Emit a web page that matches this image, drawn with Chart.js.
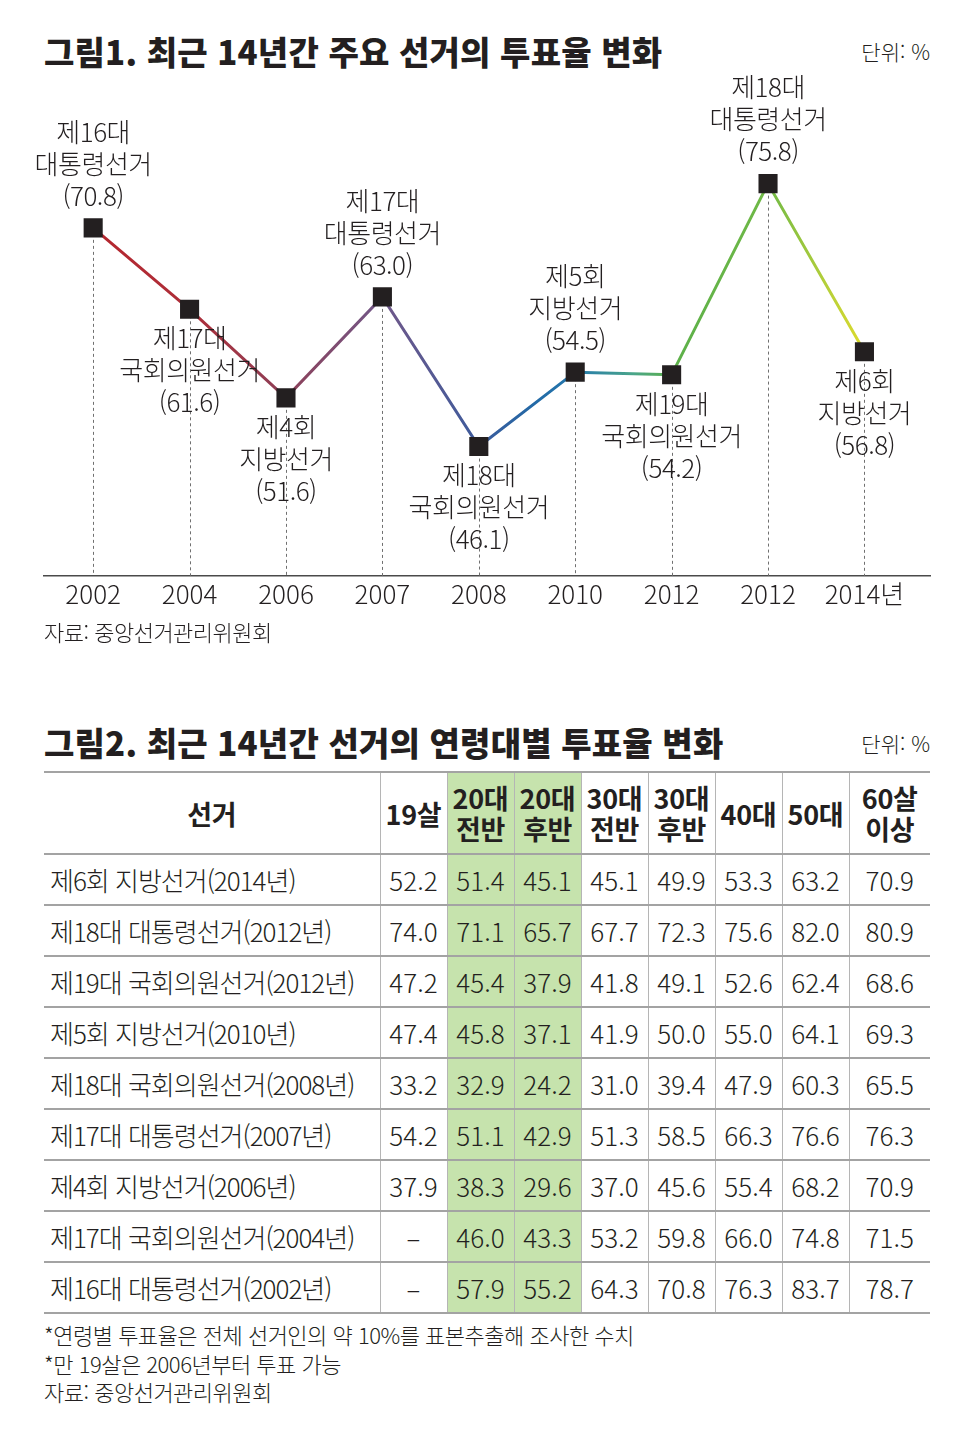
<!DOCTYPE html>
<html lang="ko">
<head>
<meta charset="utf-8">
<title>최근 14년간 선거의 투표율 변화</title>
<script src="https://cdn.jsdelivr.net/npm/chart.js@4.4.1/dist/chart.umd.min.js"></script>
<style>
  body { margin: 0; background: #fff; font-family: "Noto Sans CJK KR", "Noto Sans", sans-serif; color: #231f20; }
  #page { position: relative; width: 970px; height: 1442px; overflow: hidden; }
  .title { position: absolute; left: 44px; font-size: 33px; font-weight: 900; letter-spacing: 0.2px; line-height: 1; white-space: nowrap; }
  .unit { position: absolute; right: 40px; font-size: 21px; font-weight: 300; letter-spacing: 0; line-height: 1; }
  .note { position: absolute; left: 44px; font-size: 22px; font-weight: 300; letter-spacing: -0.5px; line-height: 28.5px; white-space: nowrap; }
  #chart-wrap { position: absolute; left: 0; top: 0; width: 970px; height: 640px; }
  table { position: absolute; left: 44px; top: 771px; width: 886px; border-collapse: collapse; table-layout: fixed; }
  th, td { border-top: 2px solid #a3a3a3; border-bottom: 2px solid #a3a3a3; border-left: 1px solid #b5b5b5; padding: 0; text-align: center; vertical-align: middle; }
  th:first-child, td:first-child { border-left: none; }
  th { height: 80px; font-size: 27px; font-weight: 700; line-height: 31px; letter-spacing: -0.3px; }
  td { height: 49px; font-size: 26px; font-weight: 300; line-height: 1; letter-spacing: 0; }
  td:first-child { text-align: left; padding-left: 6px; letter-spacing: -1px; }
  .hl { background: #c6e3ad; }
</style>
</head>
<body>
<div id="page">
  <div class="title" style="top:35px">그림1. 최근 14년간 주요 선거의 투표율 변화</div>
  <div class="unit" style="top:41px">단위: %</div>
  <div id="chart-wrap"><canvas id="chart-turnout"></canvas></div>
  <div class="note" style="top:617px">자료: 중앙선거관리위원회</div>

  <div class="title" style="top:726px">그림2. 최근 14년간 선거의 연령대별 투표율 변화</div>
  <div class="unit" style="top:733px">단위: %</div>
  <table id="table-age">
    <colgroup>
      <col style="width:336px"><col style="width:67px"><col style="width:67px"><col style="width:67px">
      <col style="width:67px"><col style="width:67px"><col style="width:67px"><col style="width:67px"><col style="width:81px">
    </colgroup>
    <thead></thead>
    <tbody></tbody>
  </table>
  <div class="note" style="top:1320px">*연령별 투표율은 전체 선거인의 약 10%를 표본추출해 조사한 수치<br>*만 19살은 2006년부터 투표 가능<br>자료: 중앙선거관리위원회</div>
</div>

<script>
// 그림1 데이터
const yearLabels = ['2002', '2004', '2006', '2007', '2008', '2010', '2012', '2012', '2014년'];
const electionOrdinals = ['제16대', '제17대', '제4회', '제17대', '제18대', '제5회', '제19대', '제18대', '제6회'];
const electionTypes = ['대통령선거', '국회의원선거', '지방선거', '대통령선거', '국회의원선거', '지방선거', '국회의원선거', '대통령선거', '지방선거'];
const turnout = [70.8, 61.6, 51.6, 63.0, 46.1, 54.5, 54.2, 75.8, 56.8];

// 그림2 데이터
const electionRows = ['제6회 지방선거(2014년)', '제18대 대통령선거(2012년)', '제19대 국회의원선거(2012년)', '제5회 지방선거(2010년)',
  '제18대 국회의원선거(2008년)', '제17대 대통령선거(2007년)', '제4회 지방선거(2006년)', '제17대 국회의원선거(2004년)', '제16대 대통령선거(2002년)'];
const ageGroups = [['19살'], ['20대', '전반'], ['20대', '후반'], ['30대', '전반'], ['30대', '후반'], ['40대'], ['50대'], ['60살', '이상']];
const age19 = [52.2, 74.0, 47.2, 47.4, 33.2, 54.2, 37.9, null, null];
const age20Early = [51.4, 71.1, 45.4, 45.8, 32.9, 51.1, 38.3, 46.0, 57.9];
const age20Late = [45.1, 65.7, 37.9, 37.1, 24.2, 42.9, 29.6, 43.3, 55.2];
const age30Early = [45.1, 67.7, 41.8, 41.9, 31.0, 51.3, 37.0, 53.2, 64.3];
const age30Late = [49.9, 72.3, 49.1, 50.0, 39.4, 58.5, 45.6, 59.8, 70.8];
const age40 = [53.3, 75.6, 52.6, 55.0, 47.9, 66.3, 55.4, 66.0, 76.3];
const age50 = [63.2, 82.0, 62.4, 64.1, 60.3, 76.6, 68.2, 74.8, 83.7];
const age60Plus = [70.9, 80.9, 68.6, 69.3, 65.5, 76.3, 70.9, 71.5, 78.7];
const ageColumns = [age19, age20Early, age20Late, age30Early, age30Late, age40, age50, age60Plus];

// 선 색: 빨강 -> 보라 -> 파랑 -> 초록 -> 노랑
function lineGradient(chart) {
  const {ctx, chartArea, scales} = chart;
  if (!chartArea) return '#b5262e';
  const x0 = scales.x.getPixelForValue(0);
  const x1 = scales.x.getPixelForValue(turnout.length - 1);
  const g = ctx.createLinearGradient(x0, 0, x1, 0);
  g.addColorStop(0, '#b5262e');
  g.addColorStop(0.13, '#ad2f3a');
  g.addColorStop(0.25, '#8d4058');
  g.addColorStop(0.375, '#715889');
  g.addColorStop(0.5, '#3d5b9c');
  g.addColorStop(0.57, '#2369a6');
  g.addColorStop(0.625, '#2479ad');
  g.addColorStop(0.7, '#4aa58a');
  g.addColorStop(0.75, '#5cb04a');
  g.addColorStop(0.875, '#70b946');
  g.addColorStop(0.95, '#b4cf3a');
  g.addColorStop(1, '#dedb2c');
  return g;
}

const dropLines = {
  id: 'dropLines',
  beforeDatasetsDraw(chart) {
    const {ctx, chartArea} = chart;
    ctx.save();
    ctx.strokeStyle = '#707070';
    ctx.lineWidth = 1;
    ctx.setLineDash([3, 3]);
    chart.getDatasetMeta(0).data.forEach(p => {
      const x = Math.round(p.x) + 0.5;
      ctx.beginPath();
      ctx.moveTo(x, p.y);
      ctx.lineTo(x, chartArea.bottom);
      ctx.stroke();
    });
    ctx.restore();
  }
};

const pointLabels = {
  id: 'pointLabels',
  afterDatasetsDraw(chart) {
    const {ctx} = chart;
    ctx.save();
    ctx.font = '300 26px "Noto Sans CJK KR"';
    ctx.letterSpacing = '-0.5px';
    ctx.fillStyle = '#231f20';
    ctx.textAlign = 'center';
    ctx.textBaseline = 'middle';
    chart.getDatasetMeta(0).data.forEach((p, i) => {
      const v = turnout[i];
      const prev = i > 0 ? turnout[i - 1] : -Infinity;
      const next = i < turnout.length - 1 ? turnout[i + 1] : -Infinity;
      const above = v > prev && v > next;
      const lines = [electionOrdinals[i], electionTypes[i], '(' + v.toFixed(1) + ')'];
      lines.forEach((t, k) => {
        const y = above ? p.y - 32 - (2 - k) * 32 : p.y + 29 + k * 32;
        ctx.fillText(t, p.x, y);
      });
    });
    ctx.restore();
  }
};

new Chart(document.getElementById('chart-turnout'), {
  type: 'line',
  data: {
    datasets: [{
      data: turnout.map((v, i) => ({x: i, y: v})),
      borderColor: ctx => lineGradient(ctx.chart),
      borderWidth: 3,
      tension: 0,
      pointStyle: 'rect',
      pointRadius: 13.5,
      pointHoverRadius: 13.5,
      pointBackgroundColor: '#231f20',
      pointBorderColor: '#231f20',
      pointBorderWidth: 0
    }]
  },
  options: {
    responsive: true,
    maintainAspectRatio: false,
    animation: false,
    events: [],
    layout: { padding: { left: 44, right: 40, top: 80, bottom: 27 } },
    plugins: { legend: { display: false }, tooltip: { enabled: false } },
    scales: {
      x: {
        type: 'linear',
        min: -0.51,
        max: 8.68,
        afterBuildTicks: scale => { scale.ticks = yearLabels.map((_, i) => ({value: i})); },
        grid: { display: false, drawTicks: false },
        border: { display: true, color: '#4a4a4a', width: 1.5 },
        ticks: {
          autoSkip: false,
          maxRotation: 0,
          padding: 3,
          color: '#231f20',
          font: { family: '"Noto Sans CJK KR"', size: 26, weight: 300 },
          callback: v => yearLabels[v] ?? ''
        }
      },
      y: { display: false, min: 31.5, max: 87.5 }
    }
  },
  plugins: [dropLines, pointLabels]
});

// 그림2 표
const thead = document.querySelector('#table-age thead');
const tbody = document.querySelector('#table-age tbody');
const hlCols = ageGroups.map(g => g[0] === '20대');
thead.innerHTML = '<tr><th>선거</th>' + ageGroups.map((g, j) =>
  `<th class="${hlCols[j] ? 'hl' : ''}">${g.join('<br>')}</th>`).join('') + '</tr>';
electionRows.forEach((name, r) => {
  let html = `<tr><td>${name}</td>`;
  ageColumns.forEach((col, j) => {
    const v = col[r];
    html += `<td class="${hlCols[j] ? 'hl' : ''}">${v == null ? '–' : v.toFixed(1)}</td>`;
  });
  tbody.innerHTML += html + '</tr>';
});
</script>
</body>
</html>
